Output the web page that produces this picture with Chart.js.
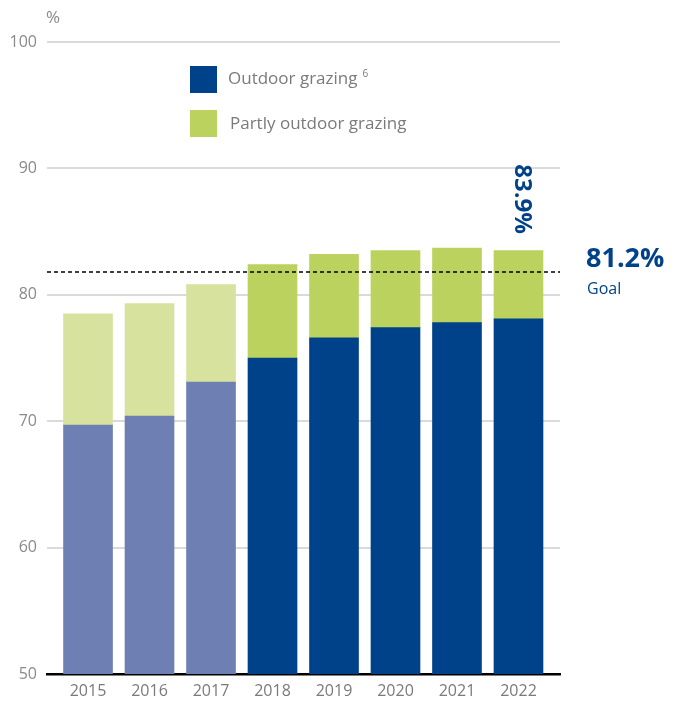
<!DOCTYPE html>
<html>
<head>
<meta charset="utf-8">
<script src="https://cdn.jsdelivr.net/npm/chart.js@4"></script>
<style>
	body { margin: 0; background: #fff; }
	#wrap { width: 674px; height: 705px; }
</style>
</head>
<body>
<div id="wrap"><canvas id="grazing-plot" width="674" height="705"></canvas></div>
<script>

const categories = [ '2015', '2016', '2017', '2018', '2019', '2020', '2021', '2022' ];

const outdoorValues = [ 69.7, 70.4, 73.1, 75.0, 76.6, 77.4, 77.8, 78.1 ];
const partlyValues = [ 8.8, 8.9, 7.7, 7.4, 6.6, 6.1, 5.9, 5.4 ];

const yTicks = [ 50, 60, 70, 80, 90, 100 ];

const goalValue = 81.8;
const goalLabel = '81.2%';
const latestLabel = '83.9%';

const FONT = "'Open Sans', 'Noto Sans', sans-serif";

// years before 2018 drawn faded
const outdoorColors = categories.map( c => Number( c ) < 2018 ? '#6e7fb4' : '#00428a' );
const partlyColors = categories.map( c => Number( c ) < 2018 ? '#d7e29e' : '#bcd25f' );


const annotations = {
	id: 'annotations',
	afterDatasetsDraw( chart ) {

		const ctx = chart.ctx;
		const x = chart.scales.x;
		const y = chart.scales.y;
		const area = chart.chartArea;

		// goal line
		const gy = y.getPixelForValue( goalValue );
		ctx.save();
		ctx.strokeStyle = '#000';
		ctx.lineWidth = 1.5;
		ctx.setLineDash( [ 4, 3 ] );
		ctx.beginPath();
		ctx.moveTo( area.left, gy );
		ctx.lineTo( area.right, gy );
		ctx.stroke();
		ctx.restore();

		ctx.save();
		ctx.fillStyle = '#00428a';
		ctx.textBaseline = 'middle';
		ctx.textAlign = 'left';
		ctx.font = 'bold 27px ' + FONT;
		ctx.fillText( goalLabel, 586, 259 );
		ctx.font = '16px ' + FONT;
		ctx.fillText( 'Goal', 587, 289 );

		// rotated value over last bar
		const last = categories.length - 1;
		ctx.translate( x.getPixelForValue( Number( categories[ last ] ) ) + 3, 199 );
		ctx.rotate( Math.PI / 2 );
		ctx.textAlign = 'center';
		ctx.font = 'bold 24px ' + FONT;
		ctx.fillText( latestLabel, 0, 0 );
		ctx.restore();

		// legend
		ctx.save();
		ctx.textBaseline = 'middle';
		ctx.font = '17px ' + FONT;
		ctx.fillStyle = '#00428a';
		ctx.fillRect( 190, 66, 27, 27 );
		ctx.fillStyle = '#bcd25f';
		ctx.fillRect( 190, 110, 27, 27 );
		ctx.fillStyle = '#7a7a7a';
		ctx.fillText( 'Outdoor grazing', 228, 79 );
		const w = ctx.measureText( 'Outdoor grazing' ).width;
		ctx.font = '10px ' + FONT;
		ctx.fillText( '6', 228 + w + 5, 74 );
		ctx.font = '17px ' + FONT;
		ctx.fillText( 'Partly outdoor grazing', 230, 124 );

		// unit
		ctx.fillStyle = '#8a8a8a';
		ctx.fillText( '%', 46, 18 );
		ctx.restore();

	}
};


const grazingData = {
	datasets: [{
		label: 'Outdoor grazing',
		data: categories.map( ( c, i ) => ( { x: Number( c ), y: outdoorValues[ i ] } ) ),
		backgroundColor: outdoorColors,
		barThickness: 49
	},{
		label: 'Partly outdoor grazing',
		data: categories.map( ( c, i ) => ( { x: Number( c ), y: partlyValues[ i ] } ) ),
		backgroundColor: partlyColors,
		barThickness: 49
	}],
};

const grazingConfig = {
	type: 'bar',
	data: grazingData,
	plugins: [ annotations ],
	options: {
		responsive: false,
		animation: false,
		layout: {
			padding: { top: 42, right: 114, left: 0, bottom: 0 }
		},
		plugins: {
			legend: { display: false },
			tooltip: { enabled: false }
		},
		scales: {
			x: {
				type: 'linear',
				stacked: true,
				offset: false,
				min: 2014.333,
				max: 2022.675,
				afterBuildTicks: ( s ) => { s.ticks = categories.map( c => ( { value: Number( c ) } ) ); },
				afterFit: ( s ) => { s.height = 31; },
				grid: { display: false, drawTicks: false, offset: false },
				border: { color: '#000', width: 2.5 },
				ticks: {
					padding: 8,
					color: '#7a7a7a',
					font: { family: FONT, size: 16 },
					callback: ( v ) => String( v )
				}
			},
			y: {
				stacked: true,
				min: 50,
				max: 100,
				afterBuildTicks: ( s ) => { s.ticks = yTicks.map( v => ( { value: v } ) ); },
				afterFit: ( s ) => { s.width = 47; },
				grid: {
					drawTicks: false,
					lineWidth: 2,
					color: ( c ) => c.tick && c.tick.value === 50 ? 'rgba(0,0,0,0)' : '#dadada'
				},
				border: { display: false },
				ticks: {
					padding: 10,
					color: '#8a8a8a',
					font: { family: FONT, size: 16 }
				}
			}
		}
	}
};

const grazingChart = new Chart( document.getElementById('grazing-plot'), grazingConfig );

</script>
</body>
</html>
